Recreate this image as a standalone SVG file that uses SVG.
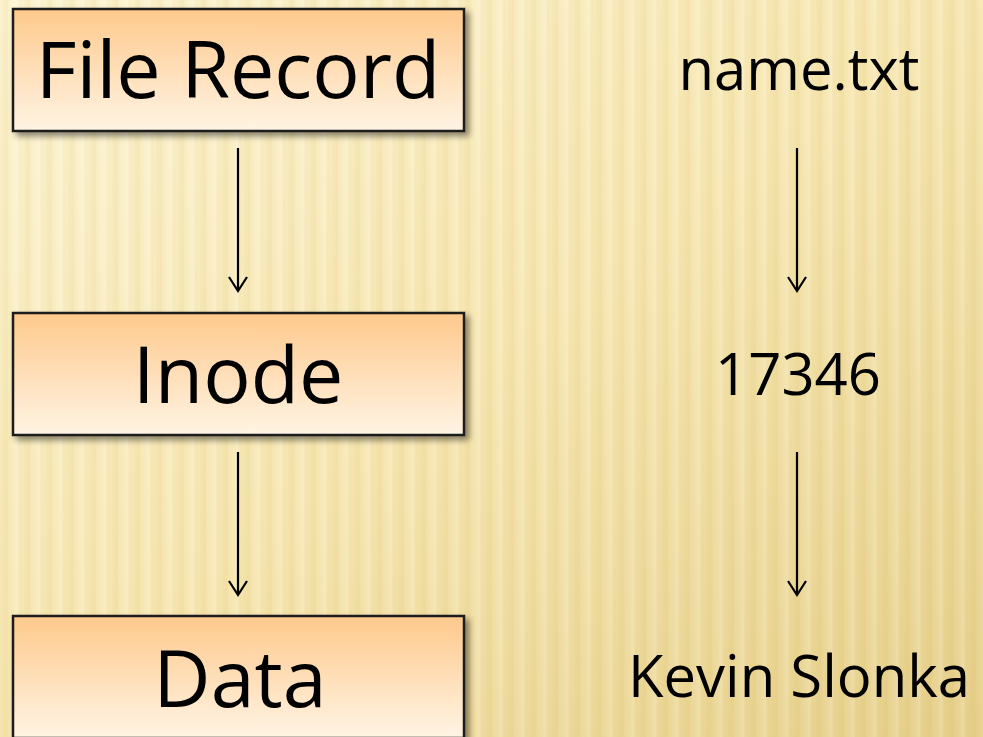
<svg xmlns="http://www.w3.org/2000/svg" width="983" height="737" viewBox="0 0 983 737">
<defs>
<linearGradient id="bg" x1="0" y1="0" x2="1" y2="1">
<stop offset="0" stop-color="#fdf4d2"/>
<stop offset="0.5" stop-color="#f6e6b0"/>
<stop offset="1" stop-color="#e6cf8a"/>
</linearGradient>
<linearGradient id="stripe" x1="0" y1="0" x2="1" y2="0">
<stop offset="0" stop-color="#c9a94a" stop-opacity="0.02"/>
<stop offset="0.3" stop-color="#c9a94a" stop-opacity="0.12"/>
<stop offset="0.55" stop-color="#ffffff" stop-opacity="0.05"/>
<stop offset="0.8" stop-color="#ffffff" stop-opacity="0.2"/>
<stop offset="1" stop-color="#c9a94a" stop-opacity="0.02"/>
</linearGradient>
<pattern id="stripes" width="22" height="737" patternUnits="userSpaceOnUse">
<rect width="22" height="737" fill="url(#stripe)"/>
</pattern>
<linearGradient id="box" x1="0" y1="0" x2="0" y2="1">
<stop offset="0" stop-color="#fec98c"/>
<stop offset="1" stop-color="#fff4e4"/>
</linearGradient>
<filter id="sh" x="-5%" y="-10%" width="115%" height="130%">
<feGaussianBlur in="SourceAlpha" stdDeviation="3"/>
<feOffset dx="4" dy="4" result="b"/>
<feComponentTransfer><feFuncA type="linear" slope="0.45"/></feComponentTransfer>
<feMerge><feMergeNode/><feMergeNode in="SourceGraphic"/></feMerge>
</filter>
<marker id="arr" viewBox="0 0 24 24" refX="21" refY="12" markerWidth="24" markerHeight="24" markerUnits="userSpaceOnUse" orient="auto">
<path d="M7,3 L21,12 L7,21" fill="none" stroke="#000" stroke-width="2.2"/>
</marker>
</defs>
<style>
.box{fill:url(#box);stroke:#1a1a1a;stroke-width:2.5;filter:url(#sh)}
.big{font-family:"Open Sans","Noto Sans",sans-serif;font-size:79px;fill:#000;text-anchor:middle}
.side{font-family:"Open Sans","Noto Sans",sans-serif;font-size:58px;fill:#000;text-anchor:middle}
.conn{stroke:#000;stroke-width:2.2;fill:none;marker-end:url(#arr)}
</style>
<rect width="983" height="737" fill="url(#bg)"/>
<rect width="983" height="737" fill="url(#stripes)"/>
<g id="file-record">
<rect class="box" x="13" y="9" width="451" height="122"/>
<text class="big" x="238" y="98">File Record</text>
</g>
<g id="inode">
<rect class="box" x="13" y="313" width="451" height="122"/>
<text class="big" x="238" y="403">Inode</text>
</g>
<g id="data">
<rect class="box" x="13" y="616" width="451" height="122"/>
<text class="big" x="240" y="707">Data</text>
</g>
<g id="name-txt"><text class="side" x="799" y="90">name.txt</text></g>
<g id="n17346"><text class="side" x="798" y="395">17346</text></g>
<g id="kevin-slonka"><text class="side" x="799" y="697">Kevin Slonka</text></g>
<g id="connectors">
<line class="conn" x1="238" y1="148" x2="238" y2="291"/>
<line class="conn" x1="238" y1="452" x2="238" y2="595"/>
<line class="conn" x1="797" y1="148" x2="797" y2="291"/>
<line class="conn" x1="797" y1="452" x2="797" y2="595"/>
</g>
</svg>
